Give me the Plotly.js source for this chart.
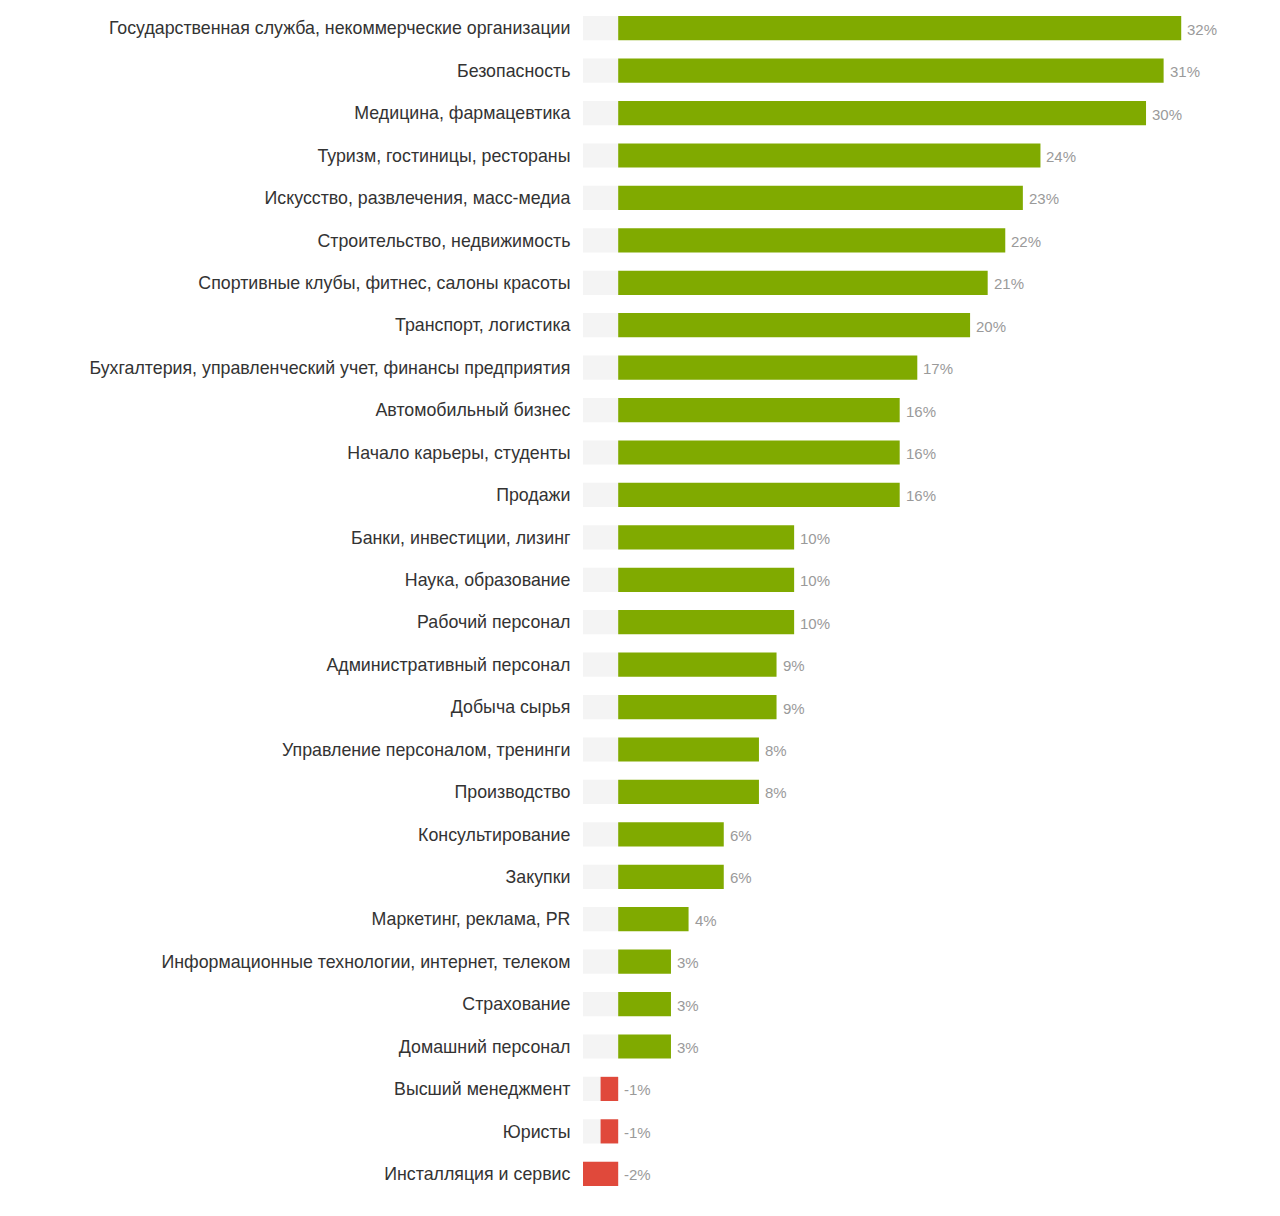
<!DOCTYPE html>
<html>
<head>
<meta charset="utf-8">
<script src="https://cdn.plot.ly/plotly-3.0.1.min.js"></script>
<style>html,body{margin:0;padding:0;background:#fff;}#chart{width:1280px;height:1216px;}</style>
</head>
<body>
<div id="chart"></div>
<script>
const categories = [
  "Государственная служба, некоммерческие организации",
  "Безопасность",
  "Медицина, фармацевтика",
  "Туризм, гостиницы, рестораны",
  "Искусство, развлечения, масс-медиа",
  "Строительство, недвижимость",
  "Спортивные клубы, фитнес, салоны красоты",
  "Транспорт, логистика",
  "Бухгалтерия, управленческий учет, финансы предприятия",
  "Автомобильный бизнес",
  "Начало карьеры, студенты",
  "Продажи",
  "Банки, инвестиции, лизинг",
  "Наука, образование",
  "Рабочий персонал",
  "Административный персонал",
  "Добыча сырья",
  "Управление персоналом, тренинги",
  "Производство",
  "Консультирование",
  "Закупки",
  "Маркетинг, реклама, PR",
  "Информационные технологии, интернет, телеком",
  "Страхование",
  "Домашний персонал",
  "Высший менеджмент",
  "Юристы",
  "Инсталляция и сервис"
];
const values = [32,31,30,24,23,22,21,20,17,16,16,16,10,10,10,9,9,8,8,6,6,4,3,3,3,-1,-1,-2];
const valueLabels = values.map(v => v + "%");
const bandMin = -2;

const posColor = "#80aa00", negColor = "#e0493b";
const n = categories.length;

const band = {
  type: "bar", orientation: "h", y: categories, x: categories.map(() => bandMin),
  marker: {color: "#f4f4f4"}, width: 0.57, hoverinfo: "skip", showlegend: false
};
const bars = {
  type: "bar", orientation: "h", y: categories, x: values,
  marker: {color: values.map(v => v < 0 ? negColor : posColor)},
  width: 0.57, showlegend: false, hoverinfo: "x+y"
};

const annotations = values.map((v, i) => ({
  x: Math.max(v, 0), y: categories[i], xref: "x", yref: "y",
  text: valueLabels[i], showarrow: false, xanchor: "left", yanchor: "middle",
  xshift: 4, yshift: -1,
  font: {family: "Liberation Sans, Arial, sans-serif", size: 15, color: "#9a9a9a"}
}));

const layout = {
  width: 1280, height: 1216,
  margin: {l: 583, r: 46, t: 7, b: 21},
  paper_bgcolor: "#ffffff", plot_bgcolor: "#ffffff",
  barmode: "overlay",
  showlegend: false,
  annotations: annotations,
  xaxis: {range: [-2, 35], visible: false, showgrid: false, zeroline: false, fixedrange: true},
  yaxis: {
    type: "category", range: [n - 0.5, -0.5], showgrid: false, zeroline: false, showline: false,
    ticks: "outside", ticklen: 8, tickcolor: "rgba(0,0,0,0)", automargin: false,
    tickfont: {family: "Liberation Sans, Arial, sans-serif", size: 17.8, color: "#333333"},
    fixedrange: true
  },
  font: {family: "Liberation Sans, Arial, sans-serif"}
};

Plotly.newPlot("chart", [band, bars], layout, {displayModeBar: false, staticPlot: true});
</script>
</body>
</html>
